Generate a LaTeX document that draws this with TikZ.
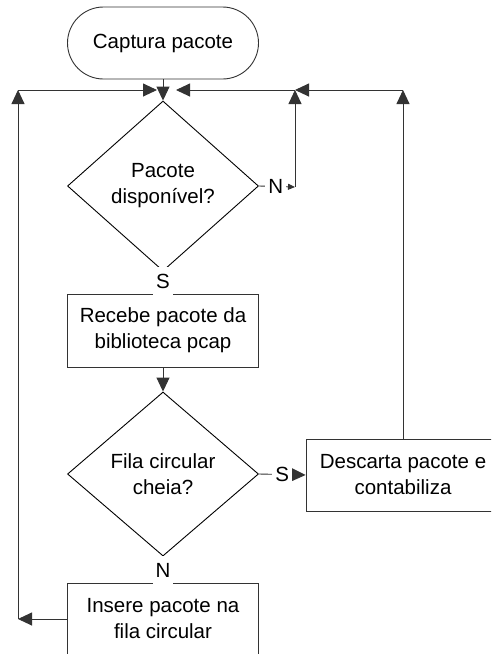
\documentclass[tikz,border=0pt]{standalone}
\usepackage{fontspec}
\setmainfont{Liberation Sans}
\usetikzlibrary{arrows.meta,shapes.geometric}
\begin{document}
\begin{tikzpicture}[x=1pt,y=-1pt,
  every node/.style={font=\fontsize{20.5}{26}\selectfont, align=center},
  line/.style={draw=black!80, line width=0.9pt},
  tip/.style={-{Triangle[length=14pt,width=13pt]}},
  smalltip/.style={-{Triangle[length=7pt,width=6pt]}},
  terminal/.style={draw=black!80, line width=0.9pt, rectangle, rounded corners=36pt,
    minimum width=191pt, minimum height=72pt, inner sep=0pt},
  process/.style={draw=black!80, line width=0.9pt, rectangle,
    minimum width=191pt, minimum height=72pt, inner sep=0pt},
  decision/.style={draw=black, line width=0.9pt, diamond, inner sep=0pt, shape aspect=1.12},
  lbl/.style={fill=white, inner sep=3pt}
]
\useasboundingbox (0,0) rectangle (491,654);
\clip (0,0) rectangle (491,654);

% blocks
\node[terminal] (cap) at (163,43) {Captura pacote};
\node[decision, minimum width=191pt, minimum height=170pt] (d1) at (163,186) {Pacote\\disponível?};
\node[process, minimum height=73pt] (rec) at (163,330.5) {Recebe pacote da\\biblioteca pcap};
\node[decision, minimum width=191pt, minimum height=164pt] (d2) at (163,474) {Fila circular\\cheia?};
\node[process, minimum width=194pt] (desc) at (403,475) {Descarta pacote e\\contabiliza};
\node[process] (ins) at (163,619) {Insere pacote na\\fila circular};

% junction points of the return loops
\coordinate (tl) at (18,90);
\coordinate (bl) at (18,619);
\coordinate (mergeL) at (157,90);
\coordinate (mergeR) at (176,90);
\coordinate (nj) at (295,90);
\coordinate (ne) at (295,187);
\coordinate (tr) at (403,90);

% main flow
\draw[line,tip] (cap.south) -- (d1.north);
\draw[line] (d1.south) -- (rec.north);
\draw[line,tip] (rec.south) -- (d2.north);
\draw[line,tip] (d2.east) -- node[lbl]{S} (desc.west);
\draw[line] (d2.south) -- (ins.north);

% "no packet" branch
\draw[line,smalltip] (d1.east) -- node[lbl, pos=0.47]{N} (ne);
\draw[line,tip] (ne) -- (nj);

% discard branch back to the top
\draw[line,tip] (desc.north) -- (tr);
\draw[line,tip] (tr) -- (nj);
\draw[line,tip] (nj) -- (mergeR);

% insert branch back to the top
\draw[line,tip] (ins.west) -- (bl);
\draw[line,tip] (bl) -- (tl);
\draw[line,tip] (tl) -- (mergeL);

% labels on the vertical exits
\node[lbl, minimum height=28pt] (sLbl) at (163,281) {S};
\node[lbl, minimum height=28pt] (nLbl) at (163,570) {N};
\end{tikzpicture}
\end{document}
